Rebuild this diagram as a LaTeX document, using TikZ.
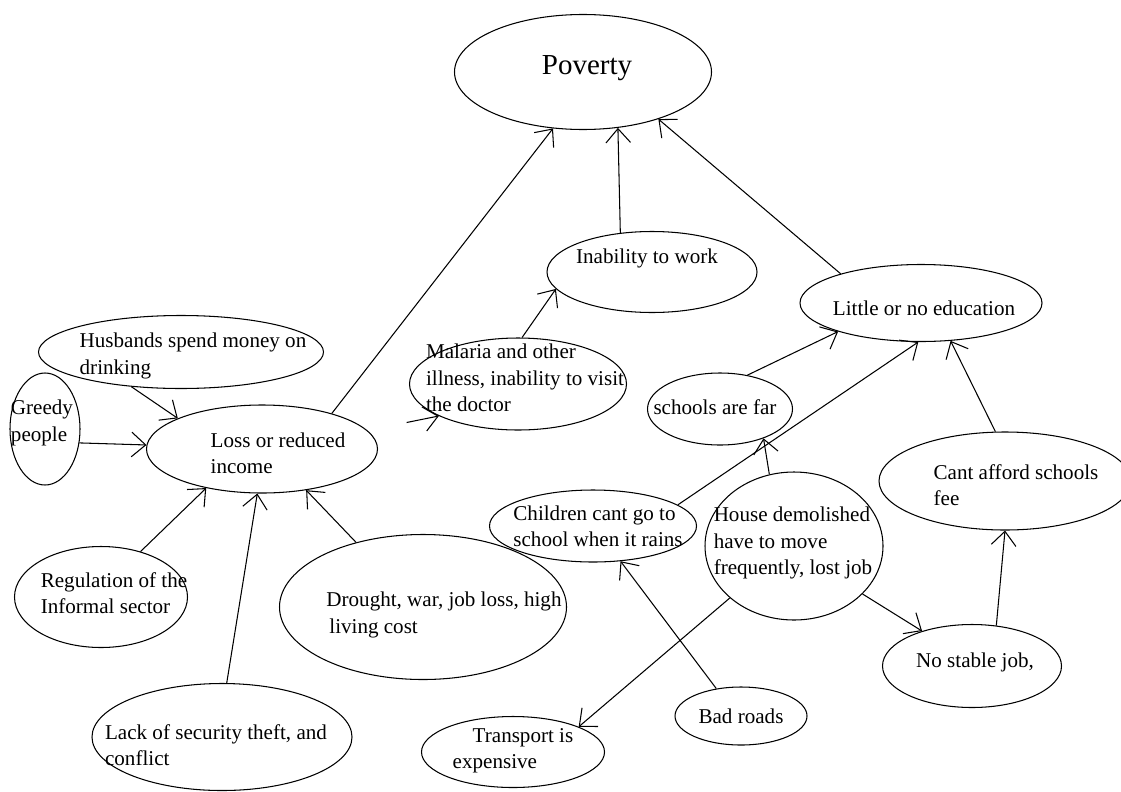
\documentclass[tikz,border=0pt]{standalone}
\usepackage{fontspec}
\setmainfont{Liberation Serif}
\usetikzlibrary{shapes.geometric,arrows.meta}
\begin{document}
\begin{tikzpicture}[x=0.02cm, y=-0.02cm,
    bubble/.style 2 args={ellipse, draw, line width=0.6pt, minimum width=#1*0.02cm, minimum height=#2*0.02cm},
    txt/.style={align=left, inner sep=0pt, font=\fontsize{12}{15}\selectfont},
    cause/.style={-{Straight Barb[length=8pt,width=14pt]}, line width=0.6pt}]
  \useasboundingbox (0,0) rectangle (1121,791);

  % top
  \node[bubble={257}{115}, label={[txt, font=\fontsize{16.5}{19}\selectfont, xshift=4*0.02cm, yshift=4*0.02cm]center:Poverty}] (poverty) at (583,72) {};
  \node[bubble={210}{81}, label={[txt, xshift=-5*0.02cm, yshift=14*0.02cm]center:Inability to work}] (inability) at (652,272) {};
  \node[bubble={217}{92}, label={[txt, xshift=7*0.02cm, yshift=6*0.02cm]center:{Malaria and other\\illness, inability to visit\\the doctor}}] (malaria) at (518,384) {};
  \node[bubble={242}{77}, label={[txt, xshift=3*0.02cm, yshift=-5*0.02cm]center:Little or no education}] (education) at (921,303) {};

  % left side
  \node[bubble={231}{88}, label={[txt, xshift=16*0.02cm, yshift=-4*0.02cm]center:{Loss or reduced\\income}}] (loss) at (262,449) {};
  \node[bubble={285}{73}, label={[txt, xshift=12*0.02cm, yshift=-4*0.02cm]center:{Husbands spend money on\\drinking}}] (husbands) at (181,352) {};
  \node[bubble={70}{112}, label={[txt, xshift=-3*0.02cm, yshift=6*0.02cm]center:{Greedy\\people}}] (greedy) at (45,429) {};
  \node[bubble={173}{101}, label={[txt, xshift=13*0.02cm, yshift=4*0.02cm]center:{Regulation of the\\Informal sector}}] (regulation) at (101,597) {};
  \node[bubble={260}{107}, label={[txt, xshift=-6*0.02cm, yshift=-8*0.02cm]center:{Lack of security theft, and\\conflict}}] (security) at (222,737) {};
  \node[bubble={287}{145}, label={[txt, xshift=21*0.02cm, yshift=-8*0.02cm]center:{Drought, war, job loss, high\\\hspace*{0.06cm}living cost}}] (drought) at (423,607) {};

  % right side
  \node[bubble={145}{72}, label={[txt, xshift=-5*0.02cm, yshift=2*0.02cm]center:schools are far}] (far) at (720,409) {};
  \node[bubble={207}{72}, label={[txt, xshift=5*0.02cm]center:{Children cant go to\\school when it rains}}] (children) at (593,526) {};
  \node[bubble={178}{148}, label={[txt, xshift=-1*0.02cm, yshift=3*0.02cm]center:{House demolished\\have to move\\frequently, lost job}}] (house) at (794,546) {};
  \node[bubble={252}{98}, label={[txt, xshift=11*0.02cm, yshift=-4*0.02cm]center:{Cant afford schools\\fee}}] (fees) at (1005,481) {};
  \node[bubble={179}{83}, label={[txt, xshift=3*0.02cm, yshift=4*0.02cm]center:{No stable job,}}] (job) at (972,666) {};
  \node[bubble={183}{71}, label={[txt, yshift=1*0.02cm]center:{\hspace*{0.4cm}Transport is\\expensive}}] (transport) at (513,752) {};
  \node[bubble={132}{58}, label={[txt]center:Bad roads}] (roads) at (741,716) {};

  % into poverty
  \draw[cause] (loss.27) -- (poverty.242);
  \draw[cause] (inability.129) -- (poverty.302);
  \draw[cause] (education.160) -- (poverty.328);
  \draw[cause] (malaria.85) -- (inability.190);
  \draw[cause, shorten <=0.8cm] (loss.10) -- (malaria.202);

  % into loss of income
  \draw[cause] (husbands.215) -- (loss.160);
  \draw[cause] (greedy.-22) -- (loss.178);
  \draw[cause] (regulation.49) -- (loss.215);
  \draw[cause] (security.85) -- (loss.264);
  \draw[cause] (drought.136) -- (loss.317);

  % into education
  \draw[cause] (far.51) -- (education.199);
  \draw[cause] (children.14) -- (education.266);
  \draw[cause] (fees.101) -- (education.308);
  \draw[cause] (house.109) -- (far.326);
  \draw[cause] (job.59) -- (fees.270);
  \draw[cause] (house.325) -- (job.145);
  \draw[cause] (house.219) -- (transport.21);
  \draw[cause] (roads.132) -- (children.308);
\end{tikzpicture}
\end{document}
